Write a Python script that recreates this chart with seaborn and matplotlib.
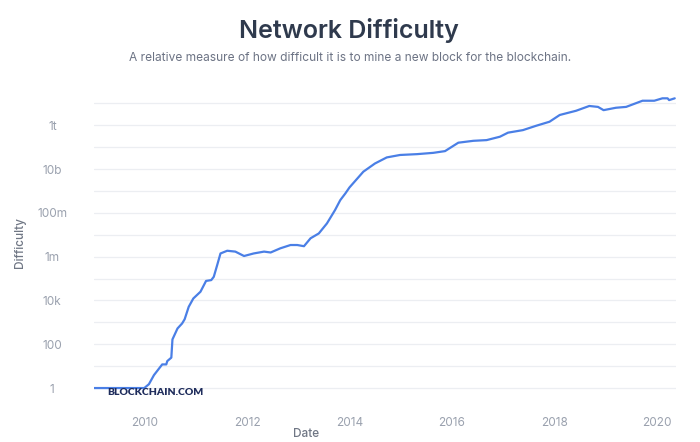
"""
Network difficulty chart (blockchain.com style), log scale.
"""

import matplotlib
matplotlib.use("Agg")
import matplotlib.pyplot as plt
import matplotlib.dates as mdates
from matplotlib.ticker import FixedLocator, NullFormatter
import seaborn as sns
import pandas as pd

# Data
DATES = [
    "2009-01-03", "2009-12-28", "2010-01-30", "2010-03-07", "2010-05-05",
    "2010-06-03", "2010-06-10", "2010-07-09", "2010-07-17", "2010-08-22",
    "2010-09-24", "2010-10-12", "2010-11-10", "2010-12-13", "2011-02-02",
    "2011-03-14", "2011-04-20", "2011-05-08", "2011-06-03", "2011-06-25",
    "2011-08-12", "2011-10-09", "2011-12-10", "2012-02-17", "2012-05-01",
    "2012-06-17", "2012-08-25", "2012-11-06", "2012-12-24", "2013-02-10",
    "2013-03-29", "2013-05-27", "2013-07-24", "2013-09-20", "2013-10-27",
    "2013-12-03", "2014-01-01", "2014-04-10", "2014-07-02", "2014-09-24",
    "2014-12-28", "2015-04-28", "2015-08-22", "2015-11-14", "2016-02-17",
    "2016-06-03", "2016-09-06", "2016-12-10", "2017-02-06", "2017-05-23",
    "2017-08-26", "2017-11-29", "2018-02-10", "2018-06-07", "2018-09-09",
    "2018-11-10", "2018-12-20", "2019-03-18", "2019-05-30", "2019-09-24",
    "2019-12-17", "2020-02-13", "2020-03-21", "2020-04-01", "2020-05-11",
]
DIFFICULTY = [
    1, 1, 1.5, 3.9, 12,
    12, 17, 24.5, 166, 525,
    890, 1380, 5100, 12300, 25000,
    78000, 85000, 120000, 447000, 1.4e6,
    1.86e6, 1.7e6, 1.07e6, 1.4e6, 1.7e6,
    1.55e6, 2.4e6, 3.4e6, 3.4e6, 3.0e6,
    6.9e6, 1.15e7, 3.3e7, 1.35e8, 3.8e8,
    7.8e8, 1.45e9, 7.6e9, 1.8e10, 3.4e10,
    4.4e10, 4.8e10, 5.5e10, 6.6e10, 1.6e11,
    1.95e11, 2.1e11, 3.0e11, 4.6e11, 6.0e11,
    9.5e11, 1.45e12, 2.95e12, 4.6e12, 7.6e12,
    6.9e12, 4.9e12, 6.3e12, 6.9e12, 1.32e13,
    1.32e13, 1.7e13, 1.7e13, 1.41e13, 1.7e13,
]
Y_TICKS = [1, 1e2, 1e4, 1e6, 1e8, 1e10, 1e12]
Y_TICK_LABELS = ["1", "100", "10k", "1m", "100m", "10b", "1t"]
Y_MINOR = [1e1, 1e3, 1e5, 1e7, 1e9, 1e11, 1e13]
X_TICK_YEARS = [2010, 2012, 2014, 2016, 2018, 2020]

TITLE = "Network Difficulty"
SUBTITLE = "A relative measure of how difficult it is to mine a new block for the blockchain."

LINE_COLOR = "#4a7fe6"
GRID_COLOR = "#eceef2"
TICK_COLOR = "#9aa1ae"
LABEL_COLOR = "#6f7684"

sns.set_theme(style="white")
plt.rcParams["font.family"] = ["Inter", "DejaVu Sans"]

df = pd.DataFrame({"Date": pd.to_datetime(DATES), "Difficulty": DIFFICULTY})

fig = plt.figure(figsize=(7, 4.42), dpi=100)
ax = fig.add_axes([0.1343, 0.0973, 0.8310, 0.6946])

sns.lineplot(data=df, x="Date", y="Difficulty", ax=ax,
             color=LINE_COLOR, linewidth=1.6)

ax.set_yscale("log")
ax.set_ylim(10 ** -0.5, 10 ** 13.52)
ax.set_xlim(pd.Timestamp("2009-01-03"), pd.Timestamp("2020-05-18"))

# y axis: labels every second decade, grid every decade
ax.yaxis.set_major_locator(FixedLocator(Y_TICKS))
ax.set_yticklabels(Y_TICK_LABELS)
ax.yaxis.set_minor_locator(FixedLocator(Y_MINOR))
ax.yaxis.set_minor_formatter(NullFormatter())
ax.grid(True, which="both", axis="y", color=GRID_COLOR, linewidth=0.9)
ax.tick_params(axis="y", which="both", length=0, pad=30,
               labelsize=8.5, labelcolor=TICK_COLOR)
for lbl in ax.get_yticklabels():
    lbl.set_horizontalalignment("center")

# x axis
ax.set_xticks([pd.Timestamp(f"{y}-01-01") for y in X_TICK_YEARS])
ax.xaxis.set_major_formatter(mdates.DateFormatter("%Y"))
ax.tick_params(axis="x", length=5, width=0.8, color="#cfd3da", pad=8,
               labelsize=8.5, labelcolor=TICK_COLOR)

sns.despine(ax=ax, left=True, bottom=True)

ax.set_xlabel("Date", color=LABEL_COLOR, fontsize=8.5, fontweight="medium")
ax.xaxis.set_label_coords(0.364, -0.114)
ax.set_ylabel("Difficulty", color=LABEL_COLOR, fontsize=8.5,
              fontweight="medium")
ax.yaxis.set_label_coords(-0.127, 0.508)
ax.xaxis.label.set_va("center")
ax.yaxis.label.set_va("center")

# watermark
ax.text(0.023, 0.02, "BLOCKCHAIN.COM", transform=ax.transAxes,
        fontsize=7.5, fontweight="heavy", color="#1f2d5c",
        family=["Lato", "DejaVu Sans"], ha="left", va="center")

fig.text(0.499, 0.932, TITLE, ha="center", va="center", fontsize=18,
         fontweight="semibold", color="#2f3a4d")
fig.text(0.500, 0.869, SUBTITLE, ha="center", va="center", fontsize=8.6,
         color="#6c7384")

fig.savefig("out.png", dpi=100)
